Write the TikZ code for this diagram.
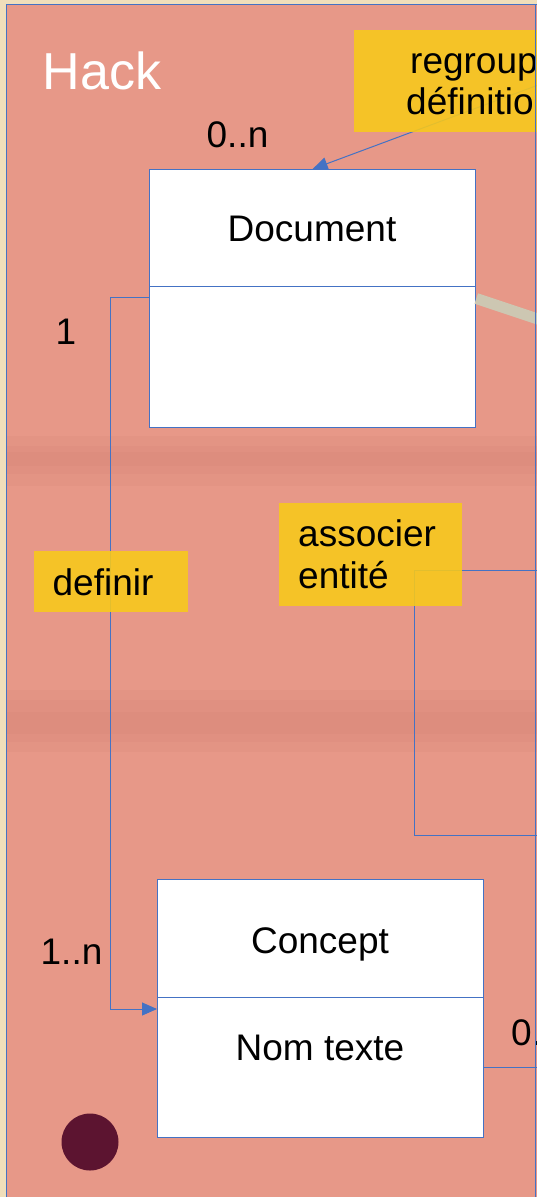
\documentclass[tikz,border=0pt]{standalone}
\usepackage{fontspec}
\setmainfont{Liberation Sans}
\usetikzlibrary{arrows.meta}
\definecolor{beige}{RGB}{240,222,186}
\definecolor{salmon}{RGB}{231,152,136}
\definecolor{bandcol}{RGB}{205,120,108}
\definecolor{umlblue}{RGB}{68,114,196}
\definecolor{noteyellow}{RGB}{248,201,26}
\definecolor{barcol}{RGB}{205,199,178}
\definecolor{blobcol}{RGB}{92,20,48}
\begin{document}
\begin{tikzpicture}[x=1pt,y=-1pt,
  classbox/.style={draw=umlblue,line width=1.3pt,fill=white,minimum width=326pt,inner sep=0pt,anchor=north west},
  note/.style={fill=noteyellow,fill opacity=0.88,inner sep=0pt,anchor=north west},
  conn/.style={draw=umlblue,line width=1pt},
  tip/.style={-{Triangle[length=15pt,width=13pt]}},
  lbl/.style={inner sep=0pt,anchor=base,font=\fontsize{37}{44}\selectfont},
  lblw/.style={lbl,anchor=base west},
  band/.style={fill=bandcol,opacity=0.12}]
\useasboundingbox (0,0) rectangle (537,1197);
\clip (0,0) rectangle (537,1197);
% background
\fill[beige] (0,0) rectangle (537,1197);
\fill[salmon] (6,4) rectangle (540,1200);
\fill[band] (6,436) rectangle (540,486);
\fill[band] (6,446) rectangle (540,474);
\fill[band] (6,452) rectangle (540,466);
\fill[band] (6,690) rectangle (540,752);
\fill[band] (6,700) rectangle (540,742);
\fill[band] (6,712) rectangle (540,734);
\draw[umlblue,line width=1pt] (6,1200) -- (6,4) -- (540,4);
\fill[blobcol] (90,1142) circle (28.5pt);
% class boxes
\node[classbox,minimum height=117pt] (docHead) at (149,169) {};
\node[classbox,minimum height=141pt] (docBody) at (149,286) {};
\node[classbox,minimum height=118pt] (conHead) at (157,879) {};
\node[classbox,minimum height=140pt] (conBody) at (157,997) {};
% connectors
\coordinate (rgSrc) at (600,62);
\draw[conn,tip] (rgSrc) -- (docHead.north);
\draw[conn,tip] ([yshift=-11pt]docBody.north west) -- ++(-39,0) |- ([yshift=-12pt]conBody.north west);
\coordinate (asA) at (545,570);
\coordinate (asB) at (545,835);
\draw[conn] (asA) -- ++(-131,0) |- (asB);
\coordinate (conOut) at (545,1067);
\draw[conn] ([yshift=-70pt]conBody.north east) -- (conOut);
\draw[barcol,line width=11pt] ([yshift=-12.5pt]docBody.north east) -- ++(90,30);
% notes
\node[note,minimum width=200pt,minimum height=102pt] (regroupBox) at (354,30) {};
\node[note,minimum width=183pt,minimum height=103pt] (assocBox) at (279,503) {};
\node[note,minimum width=154pt,minimum height=61pt] (defBox) at (34,551) {};
% texts
\node[lbl,text=white,font=\fontsize{52}{60}\selectfont] (hackT) at (102,89) {Hack};
\node[lblw] (regroupT1) at (410,73) {regroup};
\node[lblw] (regroupT2) at (406,114) {définitio};
\node[lblw] (assocT1) at (298,546) {associer};
\node[lblw] (assocT2) at (298,588) {entité};
\node[lbl] (defT) at (103,595) {definir};
\node[lbl] (docT) at (312,241) {Document};
\node[lbl] (conT) at (320,953) {Concept};
\node[lbl] (nomT) at (320,1060) {Nom texte};
\node[lbl] (m1) at (237.5,147) {0..n};
\node[lbl] (m2) at (66,344) {1};
\node[lbl] (m3) at (71.5,964) {1..n};
\node[lblw] (m4) at (511,1045) {0.};
% right border
\draw[umlblue,line width=1pt] (535.5,4) -- (535.5,1200);
\end{tikzpicture}
\end{document}
